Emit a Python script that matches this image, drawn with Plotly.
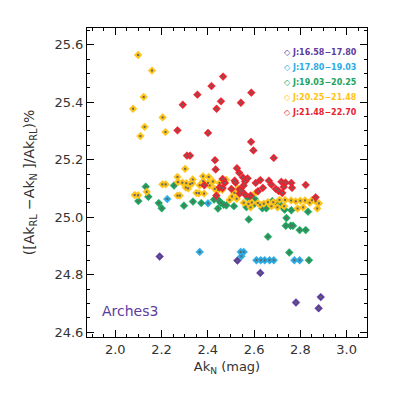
import plotly.graph_objects as go

# Data: Ak_N (mag) vs relative difference (%)
labels = ['J:16.58\u221217.80', 'J:17.80\u221219.03', 'J:19.03\u221220.25',
          'J:20.25\u221221.48', 'J:21.48\u221222.70']
colors = ['#5B3C9E', '#2AABE4', '#1BA35C', '#FFC316', '#E8232F']

x_purple = [2.192, 2.528, 2.627, 2.781, 2.879, 2.888]
y_purple = [24.863, 24.849, 24.806, 24.703, 24.683, 24.722]

x_blue = [2.225, 2.401, 2.365, 2.542, 2.555, 2.545, 2.610, 2.629, 2.646,
          2.667, 2.685, 2.774, 2.797]
y_blue = [25.063, 25.048, 24.879, 24.879, 24.879, 24.864, 24.850, 24.850,
          24.850, 24.850, 24.850, 24.850, 24.850]

x_green = [2.132, 2.143, 2.100, 2.188, 2.201, 2.254, 2.297, 2.336, 2.372,
           2.427, 2.448, 2.444, 2.469, 2.480, 2.513, 2.567, 2.574, 2.603,
           2.636, 2.653, 2.679, 2.718, 2.732, 2.761, 2.833, 2.577, 2.740,
           2.737, 2.758, 2.768, 2.797, 2.823, 2.660, 2.752, 2.837, 2.456,
           2.600, 2.700]
y_green = [25.106, 25.071, 25.056, 25.049, 25.031, 25.110, 25.040, 25.054,
           25.049, 25.061, 25.058, 25.030, 25.043, 25.041, 25.038, 25.035,
           25.067, 25.063, 25.031, 25.031, 25.056, 25.040, 25.026, 25.024,
           25.019, 24.992, 24.997, 24.970, 24.970, 24.970, 24.955, 24.955,
           24.932, 24.877, 24.850, 25.050, 25.045, 25.048]

x_yellow = [2.099, 2.159, 2.123, 2.077, 2.205, 2.127, 2.217, 2.109, 2.302,
            2.269, 2.271, 2.204, 2.218, 2.290, 2.307, 2.324, 2.315, 2.335,
            2.379, 2.404, 2.084, 2.099, 2.136, 2.269, 2.279, 2.351, 2.362,
            2.384, 2.333, 2.380, 2.401, 2.422, 2.451, 2.305, 2.365, 2.408,
            2.430, 2.479, 2.462, 2.445, 2.505, 2.494, 2.525, 2.607, 2.555,
            2.576, 2.590, 2.616, 2.642, 2.660, 2.683, 2.710, 2.734, 2.760,
            2.780, 2.800, 2.820, 2.850, 2.866, 2.585, 2.626, 2.675, 2.701,
            2.730, 2.788, 2.812, 2.873, 2.840, 2.880, 2.530, 2.515]
y_yellow = [25.564, 25.510, 25.418, 25.377, 25.347, 25.314, 25.296, 25.282,
            25.168, 25.140, 25.122, 25.114, 25.114, 25.120, 25.118, 25.115,
            25.100, 25.131, 25.142, 25.140, 25.077, 25.076, 25.088, 25.075,
            25.075, 25.084, 25.083, 25.082, 25.118, 25.125, 25.119, 25.124,
            25.119, 25.103, 25.111, 25.110, 25.098, 25.130, 25.095, 25.095,
            25.072, 25.060, 25.064, 25.085, 25.050, 25.046, 25.051, 25.049,
            25.047, 25.052, 25.052, 25.060, 25.060, 25.058, 25.055, 25.057,
            25.058, 25.059, 25.055, 25.034, 25.043, 25.038, 25.034, 25.038,
            25.030, 25.034, 25.030, 25.050, 25.048, 25.100, 25.085]

x_red = [2.466, 2.416, 2.588, 2.355, 2.457, 2.543, 2.292, 2.438, 2.269,
         2.401, 2.587, 2.597, 2.310, 2.323, 2.431, 2.685, 2.434, 2.526,
         2.536, 2.552, 2.572, 2.464, 2.474, 2.516, 2.561, 2.664, 2.627,
         2.718, 2.736, 2.761, 2.823, 2.385, 2.451, 2.464, 2.502, 2.538,
         2.546, 2.607, 2.675, 2.638, 2.694, 2.706, 2.764, 2.728, 2.722,
         2.617, 2.437, 2.538, 2.562, 2.585, 2.866, 2.520, 2.555]
y_red = [25.489, 25.456, 25.433, 25.426, 25.403, 25.398, 25.391, 25.377,
         25.302, 25.293, 25.262, 25.232, 25.214, 25.214, 25.198, 25.206,
         25.166, 25.170, 25.154, 25.138, 25.135, 25.133, 25.119, 25.127,
         25.124, 25.127, 25.129, 25.123, 25.120, 25.119, 25.112, 25.111,
         25.104, 25.101, 25.098, 25.096, 25.091, 25.119, 25.113, 25.102,
         25.098, 25.091, 25.102, 25.105, 25.084, 25.090, 25.075, 25.082,
         25.078, 25.075, 25.069, 25.120, 25.110]

groups = [(x_purple, y_purple), (x_blue, y_blue), (x_green, y_green),
          (x_yellow, y_yellow), (x_red, y_red)]

fig = go.Figure()
for (xs, ys), col in zip(groups, colors):
    fig.add_trace(go.Scatter(
        x=xs, y=ys, mode='markers', showlegend=False,
        marker=dict(symbol='diamond', size=6, color=col,
                    line=dict(width=0.5, color=col))))
    # small dark centre dot, like the original symbols
    fig.add_trace(go.Scatter(
        x=xs, y=ys, mode='markers', showlegend=False, hoverinfo='skip',
        marker=dict(symbol='square', size=2, color='#666')))

# legend drawn as annotations (tighter spacing than plotly's legend allows)
for i, (lab, col) in enumerate(zip(labels, colors)):
    fig.add_annotation(text=f'<b>\u25c7 {lab}</b>', xref='paper', yref='paper',
                       x=0.695, y=0.92 - i * 0.0485, xanchor='left',
                       yanchor='middle', showarrow=False,
                       font=dict(size=8, color=col))

axis_style = dict(
    showline=True, linecolor='black', linewidth=1, mirror='ticks',
    ticks='inside', ticklen=7, tickcolor='black', showgrid=False,
    zeroline=False, automargin=False, tickfont=dict(size=13, color='#333'),
)

fig.update_xaxes(
    range=[1.878, 3.088], tick0=2.0, dtick=0.2, tickformat='.1f',
    minor=dict(ticks='inside', ticklen=3, dtick=0.05, tickcolor='black'),
    title=dict(text='Ak<sub>N</sub> (mag)', font=dict(size=13, color='#333'),
               standoff=6),
    **axis_style)
fig.update_yaxes(
    range=[24.583, 25.658], tick0=24.6, dtick=0.2, tickformat='.1f',
    minor=dict(ticks='inside', ticklen=3, dtick=0.05, tickcolor='black'),
    title=dict(text='([Ak<sub>RL</sub> \u2212Ak<sub>N</sub> ]/Ak<sub>RL</sub>)%',
               font=dict(size=14, color='#333'), standoff=16),
    **axis_style)

fig.add_annotation(text='Arches3', xref='paper', yref='paper', x=0.045, y=0.085,
                   xanchor='left', yanchor='middle', showarrow=False,
                   font=dict(size=14, color='#5B3C9E'))

# the page body adds an 8px margin, so the figure is 8px smaller
fig.update_layout(
    width=385, height=385,
    margin=dict(l=79, r=26, t=20, b=56),
    plot_bgcolor='white', paper_bgcolor='white',
    font=dict(family='DejaVu Sans'),
    showlegend=False,
)

fig.write_html('out.html')
